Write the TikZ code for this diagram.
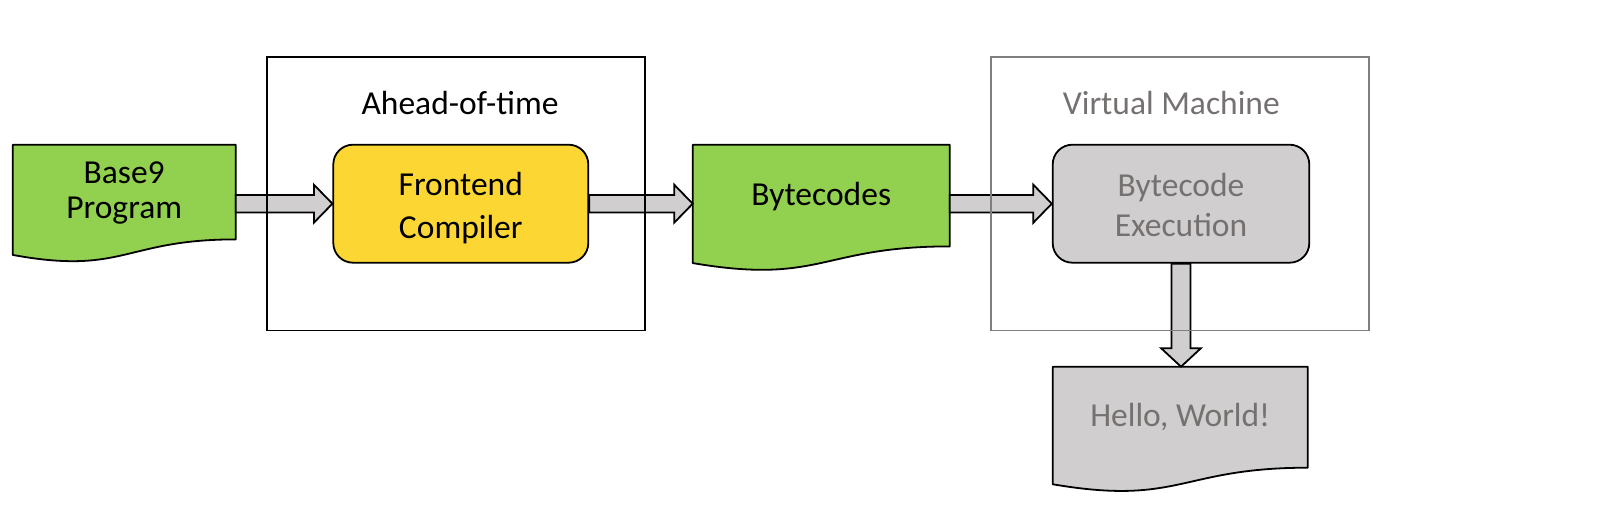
\documentclass[tikz,border=0pt]{standalone}
\usepackage{fontspec}
\setmainfont{Carlito}
\usetikzlibrary{calc,backgrounds}
\definecolor{docgreen}{HTML}{92D050}
\definecolor{feyellow}{HTML}{FCD734}
\definecolor{vmgray}{HTML}{D0CECE}
\definecolor{txtgray}{HTML}{767171}
\definecolor{framegray}{HTML}{7F7F7F}
\newcommand{\twolines}[2]{\vtop{\halign{\hfil##\hfil\cr #1\cr #2\cr}}}
\newcommand{\docpath}[3]{\path[#3] (#1.south east) -- (#1.north east) -- (#1.north west) -- ($(#1.south west)+(0,{0.132*#2})$) .. controls ($(#1.south)+(0,{0.3055*#2})$) and (#1.south) .. (#1.south east) -- cycle;}
\newcommand{\harrow}[2]{\draw[blockarrow] let \p1=(#1), \p2=(#2) in (\x1,\y1+8.8pt) -- (\x2-18.5pt,\y1+8.8pt) -- (\x2-18.5pt,\y1+19pt) -- (\x2,\y2) -- (\x2-18.5pt,\y1-19pt) -- (\x2-18.5pt,\y1-8.8pt) -- (\x1,\y1-8.8pt) -- cycle;}
\newcommand{\varrow}[2]{\draw[blockarrow] let \p1=(#1), \p2=(#2) in (\x1-9.5pt,\y1) -- (\x1-9.5pt,\y2+18.4pt) -- (\x1-19.8pt,\y2+18.4pt) -- (\x1,\y2) -- (\x1+19.8pt,\y2+18.4pt) -- (\x1+9.5pt,\y2+18.4pt) -- (\x1+9.5pt,\y1) -- cycle;}
\tikzset{
  lbl/.style={font=\fontsize{33.5}{40}\selectfont, inner sep=0pt},
  doctext/.style={lbl, anchor=north west},
  docline/.style={draw=black, line width=1.8pt, line join=round},
  blockarrow/.style={draw=black, fill=vmgray, line width=1.8pt, line join=miter},
  roundbox/.style={lbl, draw=black, line width=1.8pt, rounded corners=19.7pt, minimum width=255pt, minimum height=118pt},
  frame/.style={draw=black, line width=1.8pt, minimum width=378.3pt, minimum height=273.7pt, inner sep=0pt}
}
\begin{document}
\begin{tikzpicture}[x=1pt,y=-1pt]
\useasboundingbox (0,0) rectangle (1614,524);
% documents (text area nodes; outline drawn behind)
\node[doctext, font=\fontsize{33.5}{35}\selectfont, minimum width=222.6pt, minimum height=94.3pt, text height=0pt, text depth=17.1pt] (base) at (12.7,144.7) {\twolines{Base9}{Program}};
\node[doctext, minimum width=256.6pt, minimum height=101.3pt, text height=19.3pt, text depth=0pt] (bc) at (692.7,144.7) {Bytecodes};
\node[doctext, minimum width=254.6pt, minimum height=100.6pt, text height=19.4pt, text depth=0pt, text=txtgray] (hw) at (1052.7,366.7) {Hello, World!};
% rounded boxes
\node[roundbox, fill=feyellow, font=\fontsize{33.5}{43}\selectfont, text height=0pt, text depth=17.4pt] (fe) at (460.8,203.7) {\twolines{Frontend}{Compiler}};
\node[roundbox, fill=vmgray, text=txtgray, minimum width=256.6pt, font=\fontsize{33.5}{40.7}\selectfont, text height=0pt, text depth=15.4pt] (be) at (1181,203.7) {\twolines{Bytecode}{Execution}};
\begin{pgfonlayer}{background}
\docpath{base}{117.6}{docline, fill=docgreen}
\docpath{bc}{126.3}{docline, fill=docgreen}
\docpath{hw}{125.4}{docline, fill=vmgray}
\end{pgfonlayer}
% arrows
\harrow{base.east |- fe.west}{fe.west}
\harrow{fe.east}{bc.west |- fe.east}
\harrow{bc.east |- be.west}{be.west}
\varrow{be.south}{hw.north}
% frames
\node[frame] (aot) at (455.85,193.55) {};
\node[frame, draw=framegray, minimum width=378pt] (vm) at (1180,193.55) {};
\node[lbl, anchor=base] (aottitle) at (460,114.3) {Ahead-of-time};
\node[lbl, anchor=base, text=txtgray] (vmtitle) at (1171.3,115) {Virtual Machine};
\end{tikzpicture}
\end{document}
